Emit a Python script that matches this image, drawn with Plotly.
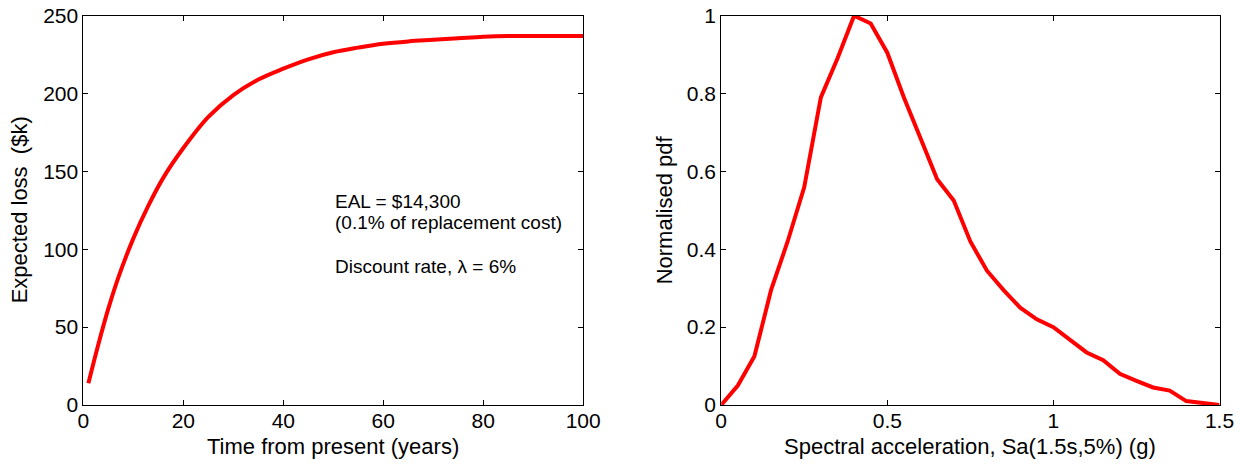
import plotly.graph_objects as go

# Left panel: expected loss vs time
years = [1, 3, 5, 7, 10, 13, 16, 20, 25, 30, 35, 40, 45, 50, 55, 60, 65, 70, 75, 80, 85, 90, 95, 100]
loss_k = [14, 39, 62, 82, 107, 128, 146, 165, 185, 199, 209, 216, 222, 226.5, 229.5, 232, 233.5, 234.5, 235.5, 236.5, 237, 237, 237, 237]

# Right panel: normalised pdf of Sa
sa = [0.0, 0.05, 0.1, 0.15, 0.2, 0.25, 0.3, 0.35, 0.4, 0.45, 0.5, 0.55, 0.6, 0.65, 0.7, 0.75,
      0.8, 0.85, 0.9, 0.95, 1.0, 1.05, 1.1, 1.15, 1.2, 1.25, 1.3, 1.35, 1.4, 1.45, 1.5]
pdf = [0.0, 0.05, 0.125, 0.295, 0.42, 0.56, 0.79, 0.89, 1.0, 0.98, 0.905, 0.79, 0.685, 0.58, 0.525, 0.42,
       0.345, 0.295, 0.25, 0.22, 0.20, 0.168, 0.135, 0.115, 0.08, 0.062, 0.045, 0.037, 0.01, 0.005, 0.0]

# Annotation lines
note_lines = ["EAL = $14,300", "(0.1% of replacement cost)", "Discount rate, λ = 6%"]
note_y = [131, 117.5, 89]

FONT = "Liberation Sans, Arial, sans-serif"
W, H = 1246, 464
L1, R1 = 83.4, 583.2
L2, R2 = 721.2, 1219.5
TOP, BOT = 15.7, 405

fig = go.Figure()
fig.add_trace(go.Scatter(x=years, y=loss_k, mode="lines", line=dict(color="#ff0000", width=4, shape="spline"),
                         xaxis="x", yaxis="y", showlegend=False))
fig.add_trace(go.Scatter(x=sa, y=pdf, mode="lines", line=dict(color="#ff0000", width=4),
                         xaxis="x2", yaxis="y2", showlegend=False))

axis_common = dict(showline=True, linecolor="black", linewidth=1, mirror="ticks", ticks="inside",
                   ticklen=5, tickcolor="black", showgrid=False, zeroline=False, automargin=False,
                   tickfont=dict(family=FONT, size=21, color="black"))

ydom = [1 - BOT/H, 1 - TOP/H]
fig.update_layout(
    width=W, height=H,
    margin=dict(l=0, r=0, t=0, b=0),
    paper_bgcolor="white", plot_bgcolor="white",
    font=dict(family=FONT, color="black"),
    xaxis=dict(domain=[L1/W, R1/W], range=[0, 100], tickvals=[0, 20, 40, 60, 80, 100],
               ticklabelstandoff=-3, anchor="y", **axis_common),
    yaxis=dict(domain=ydom, range=[0, 250], tickvals=[0, 50, 100, 150, 200, 250],
               anchor="x", **axis_common),
    xaxis2=dict(domain=[L2/W, R2/W], range=[0, 1.5], tickvals=[0, 0.5, 1, 1.5],
                ticktext=["0", "0.5", "1", "1.5"], ticklabelstandoff=-3, anchor="y2", **axis_common),
    yaxis2=dict(domain=ydom, range=[0, 1], tickvals=[0, 0.2, 0.4, 0.6, 0.8, 1],
                ticktext=["0", "0.2", "0.4", "0.6", "0.8", "1"], anchor="x2", **axis_common),
)

title_font = dict(family=FONT, size=22, color="black")
ymid = 1 - (TOP + BOT) / 2 / H
fig.add_annotation(x=(L1 + R1) / 2 / W, y=1 - 446.5 / H, xref="paper", yref="paper", showarrow=False,
                   xanchor="center", yanchor="middle", text="Time from present (years)", font=title_font)
fig.add_annotation(x=(L2 + R2) / 2 / W, y=1 - 446.5 / H, xref="paper", yref="paper", showarrow=False,
                   xanchor="center", yanchor="middle", text="Spectral acceleration, Sa(1.5s,5%) (g)", font=title_font)
fig.add_annotation(x=19 / W, y=ymid, xref="paper", yref="paper", showarrow=False, textangle=-90,
                   xanchor="center", yanchor="middle", text="Expected loss  ($k)", font=title_font)
fig.add_annotation(x=664 / W, y=ymid, xref="paper", yref="paper", showarrow=False, textangle=-90,
                   xanchor="center", yanchor="middle", text="Normalised pdf", font=title_font)

for txt, yv in zip(note_lines, note_y):
    fig.add_annotation(x=50, y=yv, xref="x", yref="y", xanchor="left", yanchor="middle", align="left",
                       showarrow=False, text=txt,
                       font=dict(family=FONT, size=19, color="black"))

fig.write_html("out.html")
